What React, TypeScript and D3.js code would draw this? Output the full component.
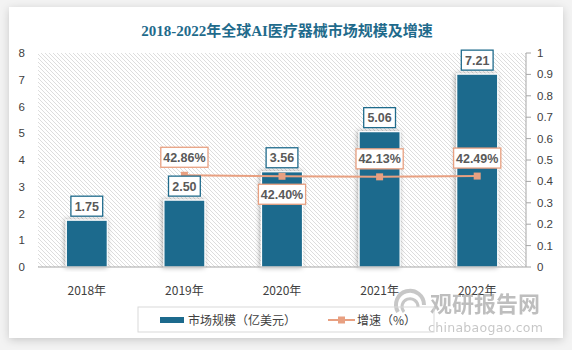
import React from "react";
import * as d3 from "d3";

const categories = ["2018年", "2019年", "2020年", "2021年", "2022年"];
const marketSize = [1.75, 2.5, 3.56, 5.06, 7.21];
const growth: (number | null)[] = [null, 0.4286, 0.424, 0.4213, 0.4249];
const leftTicks = [0, 1, 2, 3, 4, 5, 6, 7, 8];
const rightTicks = [0, 0.1, 0.2, 0.3, 0.4, 0.5, 0.6, 0.7, 0.8, 0.9, 1];
const title = "2018-2022年全球AI医疗器械市场规模及增速";
const legendBar = "市场规模（亿美元）";
const legendLine = "增速（%）";

const W = 572;
const H = 350;
const plot = { left: 38, right: 526, top: 53, bottom: 267 };
const BAR_COLOR = "#1c6a8d";
const LINE_COLOR = "#e8a081";
const TEXT = "#595959";
const CJK = "'Noto Sans CJK SC', 'Noto Sans', sans-serif";
const NUM = "'Liberation Sans', Arial, sans-serif";

export default function App() {
  const x = d3.scaleBand().domain(categories).range([plot.left, plot.right]).paddingInner(0.58).paddingOuter(0.29);
  const yL = d3.scaleLinear().domain([0, 8]).range([plot.bottom, plot.top]);
  const yR = d3.scaleLinear().domain([0, 1]).range([plot.bottom, plot.top]);
  const cx = (c: string) => (x(c) as number) + x.bandwidth() / 2;

  const linePts = categories
    .map((c, i) => ({ c, v: growth[i] }))
    .filter((d) => d.v !== null) as { c: string; v: number }[];
  const lineGen = d3
    .line<{ c: string; v: number }>()
    .x((d) => cx(d.c))
    .y((d) => yR(d.v));

  const boxH = 20;
  const barLabelY = (i: number) => yL(marketSize[i]) - 14;
  const pctLabelY = (i: number, v: number) => {
    const py = yR(v);
    const above = py - 18;
    const bl = barLabelY(i);
    if (Math.abs(above - bl) < boxH + 2) return py + 18;
    return above;
  };
  const boxW = (s: string, pad: number) => s.length * 6.7 + pad;

  return (
    <svg
      width={W}
      height={H}
      style={{ position: "absolute", left: 0, top: 0 }}
      xmlns="http://www.w3.org/2000/svg"
    >
      <defs>
        <pattern id="hatch" width="4" height="4" patternUnits="userSpaceOnUse">
          <path d="M-1,-1 L5,5 M-1,3 L1,5 M3,-1 L5,1" stroke="#d4d4d4" strokeWidth="0.8" />
        </pattern>
        <filter id="panelShadow" x="-5%" y="-5%" width="110%" height="115%">
          <feDropShadow dx="0" dy="2" stdDeviation="4" floodColor="#000" floodOpacity="0.18" />
        </filter>
        <filter id="barShadow" x="-40%" y="-10%" width="180%" height="120%">
          <feDropShadow dx="-1" dy="0" stdDeviation="2.5" floodColor="#000" floodOpacity="0.35" />
        </filter>
      </defs>
      <rect x={0} y={0} width={W} height={H} fill="#f3f3f3" />
      <rect x={9} y={7} width={554} height={331} fill="#ffffff" filter="url(#panelShadow)" />

      <text
        x={287}
        y={36}
        textAnchor="middle"
        fontFamily={"'Liberation Serif', 'Noto Sans CJK SC', serif"}
        fontWeight="bold"
        fontSize={15}
        fill="#1f6b8c"
      >
        {title}
      </text>

      <rect
        x={plot.left}
        y={plot.top}
        width={plot.right - plot.left}
        height={plot.bottom - plot.top}
        fill="url(#hatch)"
      />

      {/* left axis labels */}
      {leftTicks.map((t) => (
        <text key={t} x={25} y={yL(t) + 4} textAnchor="end" fontFamily={NUM} fontSize={11.5} fill="#404040">
          {t}
        </text>
      ))}
      {/* right axis */}
      <line x1={plot.right} x2={plot.right} y1={plot.top} y2={plot.bottom} stroke="#a6a6a6" />
      {rightTicks.map((t) => (
        <g key={t}>
          <line x1={plot.right} x2={plot.right + 5} y1={yR(t)} y2={yR(t)} stroke="#a6a6a6" />
          <text x={537} y={yR(t) + 4} fontFamily={NUM} fontSize={11.5} fill="#404040">
            {d3.format("~g")(t)}
          </text>
        </g>
      ))}

      {/* bars */}
      {categories.map((c, i) => (
        <rect
          key={c}
          x={x(c)}
          y={yL(marketSize[i])}
          width={x.bandwidth()}
          height={plot.bottom - yL(marketSize[i])}
          fill={BAR_COLOR}
          stroke="#ffffff"
          strokeWidth={1.2}
          filter="url(#barShadow)"
        />
      ))}

      {/* bottom axis */}
      <line x1={plot.left} x2={plot.right} y1={plot.bottom} y2={plot.bottom} stroke="#a6a6a6" />
      {categories.map((c) => (
        <text key={c} x={cx(c)} y={295} textAnchor="middle" fontFamily={CJK} fontSize={12} fill="#404040">
          {c}
        </text>
      ))}

      {/* line */}
      <path d={lineGen(linePts) || ""} fill="none" stroke={LINE_COLOR} strokeWidth={2} />
      {linePts.map((d) => (
        <rect key={d.c} x={cx(d.c) - 3.5} y={yR(d.v) - 3.5} width={7} height={7} fill={LINE_COLOR} />
      ))}

      {/* bar labels */}
      {categories.map((c, i) => {
        const s = marketSize[i].toFixed(2);
        const w = boxW(s, 5);
        const yc = barLabelY(i);
        return (
          <g key={c}>
            <rect x={cx(c) - w / 2} y={yc - boxH / 2} width={w} height={boxH} fill="#fff" stroke="#1f6b8c" strokeWidth={1.3} />
            <text x={cx(c)} y={yc + 4.5} textAnchor="middle" fontFamily={NUM} fontWeight="bold" fontSize={12.5} fill={TEXT}>
              {s}
            </text>
          </g>
        );
      })}

      {/* pct labels */}
      {categories.map((c, i) => {
        const v = growth[i];
        if (v === null) return null;
        const s = (v * 100).toFixed(2) + "%";
        const w = boxW(s, 7);
        const yc = pctLabelY(i, v);
        return (
          <g key={c}>
            <rect x={cx(c) - w / 2} y={yc - boxH / 2} width={w} height={boxH} fill="#fff" stroke={LINE_COLOR} strokeWidth={1.3} />
            <text x={cx(c)} y={yc + 4.5} textAnchor="middle" fontFamily={NUM} fontWeight="bold" fontSize={12.5} fill={TEXT}>
              {s}
            </text>
          </g>
        );
      })}

      {/* watermark */}
      <g opacity={0.55}>
        <path d="M398,312 A14,14 0 1 1 424,305" fill="none" stroke="#9a9a9a" strokeWidth={4} />
        <path d="M404,312 A8,8 0 1 1 418,307" fill="none" stroke="#9a9a9a" strokeWidth={3} />
        <text x={430} y={312} fontFamily={CJK} fontWeight="bold" fontSize={22} fill="#8a8a8a">
          观研报告网
        </text>
        <text x={428} y={332} fontFamily={"'DejaVu Sans', sans-serif"} fontSize={12.5} fill="#9a9a9a" letterSpacing={0.3}>
          chinabaogao.com
        </text>
      </g>

      {/* legend */}
      <rect x={138} y={307} width={296} height={25} fill="none" stroke="#d9d9d9" />
      <rect x={160} y={317} width={24} height={6} fill={BAR_COLOR} />
      <text x={188} y={324.5} fontFamily={CJK} fontSize={12} fill="#404040">
        {legendBar}
      </text>
      <line x1={328} x2={355} y1={320} y2={320} stroke={LINE_COLOR} strokeWidth={2} />
      <rect x={338} y={316.5} width={7} height={7} fill={LINE_COLOR} />
      <text x={357} y={324.5} fontFamily={CJK} fontSize={12} fill="#404040">
        {legendLine}
      </text>
    </svg>
  );
}
